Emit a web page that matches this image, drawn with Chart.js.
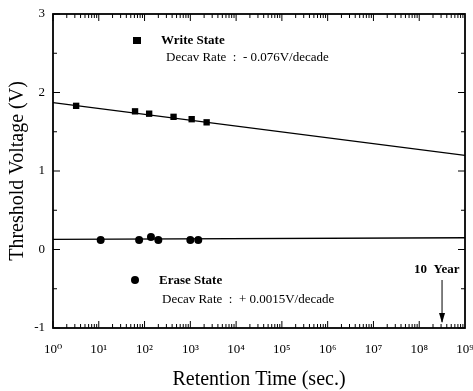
<!DOCTYPE html>
<html>
<head>
<meta charset="utf-8">
<script src="https://cdn.jsdelivr.net/npm/chart.js@4/dist/chart.umd.min.js"></script>
<style>
html,body{margin:0;padding:0;background:#fff;}
#wrap{width:473px;height:391px;}
</style>
</head>
<body>
<div id="wrap"><canvas id="c" width="473" height="391"></canvas></div>
<script>
// Data
const writeTimes = [3.2, 62, 126, 430, 1070, 2270];
const writeVolts = [1.83, 1.76, 1.73, 1.69, 1.66, 1.62];
const eraseTimes = [11, 76, 138, 200, 1000, 1490];
const eraseVolts = [0.12, 0.12, 0.16, 0.12, 0.12, 0.12];
const writeFitTimes = [1, 1e9];
const writeFitVolts = [1.87, 1.2];
const eraseFitTimes = [1, 1e9];
const eraseFitVolts = [0.13, 0.15];
const tenYears = 3.15e8;
const xMin = 1, xMax = 1e9;
const yMin = -1, yMax = 3;
const yTickValues = [-1, 0, 1, 2, 3];
const sup = ['⁰','¹','²','³','⁴','⁵','⁶','⁷','⁸','⁹'];

const pts = (xs, ys) => xs.map((x, i) => ({x: x, y: ys[i]}));
const SERIF = '"Liberation Serif", "DejaVu Serif", serif';

const decorPlugin = {
  id: 'decor',
  afterDraw(chart) {
    const ctx = chart.ctx;
    const a = chart.chartArea;
    const xs = chart.scales.x, ys = chart.scales.y;
    ctx.save();
    ctx.strokeStyle = '#000';
    ctx.lineWidth = 1.8;
    ctx.strokeRect(a.left, a.top, a.right - a.left, a.bottom - a.top);
    // x ticks (log)
    ctx.lineWidth = 1;
    for (let e = 0; e < 9; e++) {
      for (let m = 1; m <= 9; m++) {
        const v = m * Math.pow(10, e);
        const px = xs.getPixelForValue(v);
        const len = (m === 1) ? 7 : 4;
        ctx.beginPath();
        ctx.moveTo(px, a.bottom); ctx.lineTo(px, a.bottom - len);
        ctx.moveTo(px, a.top); ctx.lineTo(px, a.top + len);
        ctx.stroke();
      }
    }
    // y ticks
    for (let v = yMin; v <= yMax + 1e-9; v += 0.5) {
      const py = ys.getPixelForValue(v);
      const len = (Math.abs(v - Math.round(v)) < 1e-9) ? 7 : 4;
      ctx.beginPath();
      ctx.moveTo(a.left, py); ctx.lineTo(a.left + len, py);
      ctx.moveTo(a.right, py); ctx.lineTo(a.right - len, py);
      ctx.stroke();
    }
    // legend-like annotations
    ctx.fillStyle = '#000';
    ctx.fillRect(133, 37, 8, 7);
    ctx.beginPath(); ctx.arc(135, 280, 4, 0, Math.PI * 2); ctx.fill();
    ctx.textBaseline = 'middle';
    ctx.textAlign = 'left';
    ctx.font = 'bold 13px ' + SERIF;
    ctx.fillText('Write State', 161, 41);
    ctx.fillText('Erase State', 159, 281);
    ctx.font = '13px ' + SERIF;
    ctx.fillText('Decav Rate  :  - 0.076V/decade', 166, 58);
    ctx.fillText('Decav Rate  :  + 0.0015V/decade', 162, 300);
    ctx.font = 'bold 13px ' + SERIF;
    ctx.fillText('10  Year', 414, 270);
    // arrow
    const ax = xs.getPixelForValue(tenYears);
    ctx.lineWidth = 1;
    ctx.beginPath(); ctx.moveTo(ax, 280); ctx.lineTo(ax, 322); ctx.stroke();
    ctx.beginPath(); ctx.moveTo(ax - 3, 313); ctx.lineTo(ax, 323); ctx.lineTo(ax + 3, 313); ctx.closePath(); ctx.fill();
    ctx.restore();
  }
};

new Chart(document.getElementById('c'), {
  type: 'scatter',
  data: {
    datasets: [
      { data: pts(writeFitTimes, writeFitVolts), showLine: true, borderColor: '#000', borderWidth: 1.3, pointRadius: 0, fill: false },
      { data: pts(eraseFitTimes, eraseFitVolts), showLine: true, borderColor: '#000', borderWidth: 1.3, pointRadius: 0, fill: false },
      { data: pts(writeTimes, writeVolts), pointStyle: 'rect', pointRadius: 4.5, backgroundColor: '#000', borderColor: '#000', borderWidth: 0 },
      { data: pts(eraseTimes, eraseVolts), pointStyle: 'circle', pointRadius: 4, backgroundColor: '#000', borderColor: '#000', borderWidth: 0 }
    ]
  },
  options: {
    responsive: false,
    animation: false,
    layout: { padding: { top: 14, right: 8, left: 0, bottom: 0 } },
    plugins: { legend: { display: false }, tooltip: { enabled: false } },
    scales: {
      x: {
        type: 'logarithmic', min: xMin, max: xMax,
        grid: { display: false, drawTicks: false },
        border: { display: false },
        afterBuildTicks(scale) {
          const t = [];
          for (let e = 0; e <= 9; e++) t.push({ value: Math.pow(10, e) });
          scale.ticks = t;
        },
        ticks: {
          autoSkip: false, maxRotation: 0, padding: 14, color: '#000',
          font: { family: SERIF, size: 13 },
          callback: (v) => { const e = Math.round(Math.log10(v)); return '10' + sup[e]; }
        },
        title: { display: true, text: 'Retention Time (sec.)', color: '#000', font: { family: SERIF, size: 20 }, padding: { top: 0, bottom: -1 } },
        afterFit(scale) { scale.height = 63; scale.paddingLeft = 0; scale.paddingRight = 0; }
      },
      y: {
        min: yMin, max: yMax,
        afterBuildTicks(scale) { scale.ticks = yTickValues.map(v => ({ value: v })); },
        grid: { display: false, drawTicks: false },
        border: { display: false },
        ticks: { color: '#000', padding: 8, font: { family: SERIF, size: 13 } },
        title: { display: true, text: 'Threshold Voltage (V)', color: '#000', font: { family: SERIF, size: 20 }, padding: { top: 6, bottom: 4 } },
        afterFit(scale) { scale.width = 53; scale.paddingTop = 0; scale.paddingBottom = 0; }
      }
    }
  },
  plugins: [decorPlugin]
});
</script>
</body>
</html>
